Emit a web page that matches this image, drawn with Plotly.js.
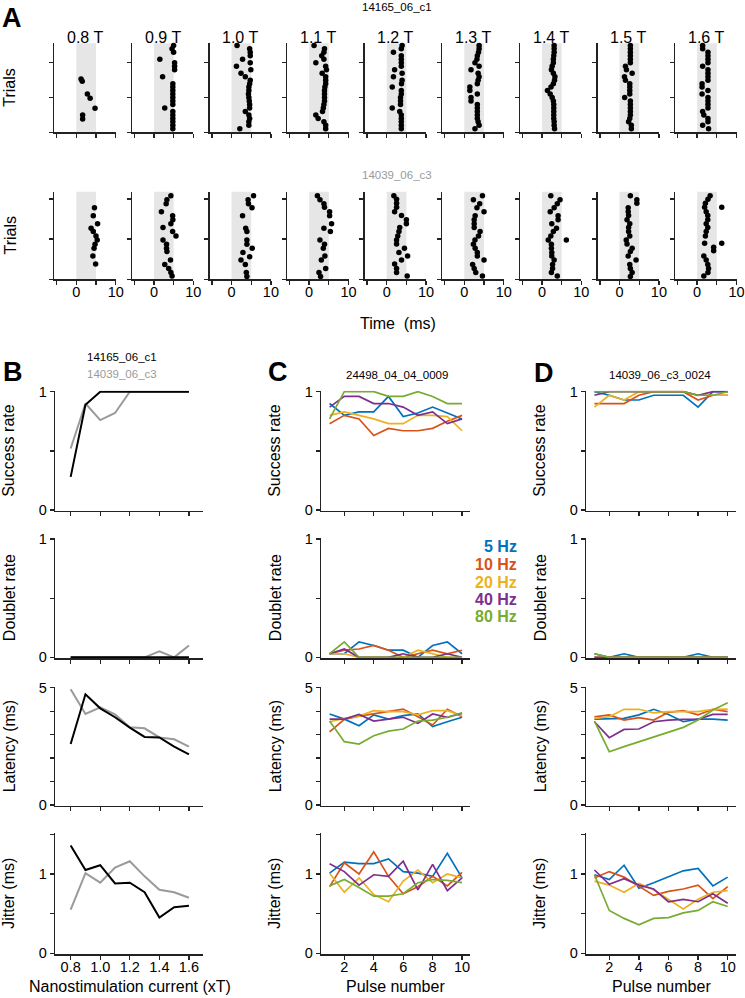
<!DOCTYPE html>
<html><head><meta charset="utf-8">
<script src="https://cdn.plot.ly/plotly-3.0.1.min.js"></script>
<style>html,body{margin:0;padding:0;background:#fff}#chart{width:745px;height:998px}</style>
</head><body><div id="chart"></div>
<script>
// ---------------- DATA ----------------
const intensities = ['0.8 T','0.9 T','1.0 T','1.1 T','1.2 T','1.3 T','1.4 T','1.5 T','1.6 T'];
const stimWindow = [0, 5];
const rasterXTicks = [-5, 0, 5, 10];
const rasterXTickText = ['', '0', '', '10'];
const rasterYTicks = [0, 10, 20];
const trials25 = [1,2,3,4,5,6,7,8,9,10,11,12,13,14,15,16,17,18,19,20,21,22,23,24,25];

// Cell 14165_06_c1 (top raster row): spike times (ms) and trial numbers
const topTimes = [
  [1.6,1.6,4.75,3.5,2.8,1.5,1.2],
  [4.8,4.8,4.8,4.8,4.8,4.8,2.75,4.8,4.8,4.8,4.8,4.8,4.8,4.8,2.2,5.25,5.25,5.25,1.5,5.0,4.6,5.0],
  [2.1,4.4,4.4,4.6,4.4,3.5,4.6,4.6,4.5,4.4,4.3,4.4,4.4,4.6,4.75,3.5,2.4,4.9,1.25,4.75,2.8,4.75,4.75,4.6,1.4],
  [4.2,4.2,3.75,2.3,1.7,3.4,3.6,3.75,3.9,3.9,3.9,3.9,4.0,4.2,4.2,4.2,3.3,4.4,4.2,1.7,3.75,3.2,3.75,3.9,1.25],
  [3.7,3.7,3.7,3.7,3.7,3.3,1.4,3.5,3.5,3.5,3.7,3.7,1.4,3.75,3.9,1.7,3.9,2.0,3.7,3.7,3.7,3.7,1.7,3.7,3.9],
  [2.7,3.75,3.5,3.3,3.3,3.3,3.3,3.3,1.7,1.7,3.3,1.4,1.4,3.3,3.5,3.75,3.5,1.7,3.75,2.7,3.2,3.3,3.6,3.75,3.75],
  [3.2,3.1,3.1,3.0,3.0,3.0,3.0,3.0,2.9,2.6,2.1,1.4,2.3,2.9,3.2,3.3,2.9,2.4,2.6,2.9,2.9,3.0,3.1,3.1,3.1],
  [3.0,3.0,2.3,2.6,2.75,2.75,2.75,2.75,2.75,1.3,2.6,2.6,2.6,2.6,1.5,1.25,3.2,1.75,1.5,2.75,2.75,2.75,2.75,2.75,2.75],
  [2.9,1.4,2.75,2.75,1.7,1.4,2.75,2.75,2.75,2.75,1.25,2.75,1.25,1.25,2.75,2.75,2.75,2.75,1.4,2.75,2.75,2.75,2.75,1.4,1.4]
];
const topTrials = [
  [3.8,5.0,6.9,9.8,11.0,14.7,15.3],
  [1,2,3,4,5,6,7,8,9,10,11,12,13,14,16,18,19,20,21,23,24,25],
  trials25, trials25, trials25, trials25, trials25, trials25, trials25
];

// Cell 14039_06_c3 (bottom raster row)
const botTimes = [
  [4.6,4.3,5.4,3.75,4.3,5.0,5.3,4.75,4.5,4.2,4.9],
  [4.3,3.3,3.1,1.9,4.75,4.8,4.3,2.3,4.75,5.6,2.3,3.2,3.2,3.3,4.2,2.75,3.75,4.3,4.6],
  [5.6,4.2,4.3,5.2,2.8,3.6,3.9,3.9,3.9,5.25,2.9,4.6,2.4,3.5,3.75,3.9],
  [2.1,2.75,3.75,3.9,5.2,5.2,5.7,3.75,5.4,2.75,3.9,3.6,4.0,3.1,4.2,2.5,2.9],
  [1.8,2.5,2.5,2.5,2.0,3.75,5.0,5.0,3.3,3.1,2.8,2.5,2.5,4.5,3.1,5.3,3.75,2.0,2.5,2.5,5.2],
  [4.6,2.3,3.9,3.2,5.0,2.75,2.5,2.5,2.5,4.0,3.6,2.7,2.3,2.75,3.3,3.3,5.0,2.1,2.5,2.9,4.6],
  [2.25,4.6,3.9,3.1,2.1,4.1,4.1,2.5,3.7,2.9,2.25,1.6,6.2,2.4,2.4,2.5,2.5,3.1,2.7,2.7,2.4,3.9],
  [2.75,4.4,4.4,2.2,2.2,2.3,1.9,2.6,2.3,2.3,2.6,1.7,1.9,3.2,2.75,2.2,4.2,2.6,2.75,3.2,2.75],
  [3.3,2.75,2.1,6.25,1.9,2.3,2.7,2.7,2.3,2.7,2.3,2.1,1.9,6.25,4.2,4.2,1.7,2.3,2.7,2.9,2.75,1.7]
];
const botTrials = [
  [17.8,15.8,13.8,12.7,11.9,10.8,9.8,8.7,7.7,5.8,3.8],
  [20.8,19.8,18.8,16.8,15.8,14.8,13.8,12.9,11.9,10.8,9.8,8.7,7.7,6.9,4.8,3.7,2.7,1.7,0.8],
  [20.8,19.8,18.8,17.8,15.8,12.7,11.9,9.8,8.7,7.7,6.7,5.6,4.8,3.7,1.7,0.7],
  [20.8,19.8,18.8,17.9,16.8,15.8,13.8,12.7,11.9,9.8,8.7,7.7,5.8,4.8,2.7,1.7,0.7],
  [20.8,19.9,18.9,17.9,16.8,15.9,14.8,13.8,12.9,11.9,10.8,9.8,8.8,7.7,6.7,5.8,4.8,3.8,2.7,1.7,0.8],
  [20.8,19.8,18.8,17.8,16.8,15.8,14.8,13.8,12.9,11.9,10.8,9.8,8.7,7.7,6.7,5.8,4.8,3.7,2.7,1.7,0.8],
  [20.8,19.8,18.8,17.8,16.8,15.8,14.8,13.8,12.7,11.9,10.8,9.8,9.8,8.7,7.7,6.7,5.8,4.8,3.7,2.7,1.7,0.8],
  [20.8,19.8,18.9,17.8,16.8,15.9,14.8,13.8,12.9,11.9,10.8,9.8,8.8,7.7,6.9,5.8,4.8,3.7,2.7,1.7,0.7],
  [20.8,19.9,18.9,17.9,17.9,16.8,15.9,14.8,13.8,12.9,11.9,10.8,9.0,9.0,8.0,7.1,5.8,4.8,3.7,2.7,1.7,0.8]
];

// Panel B: vs nanostimulation current
const currents = [0.8,0.9,1.0,1.1,1.2,1.3,1.4,1.5,1.6];
const currentTicks = [0.8,1.0,1.2,1.4,1.6];
const currentTickText = ['0.8','1.0','1.2','1.4','1.6'];
const successB_c1 = [0.28,0.89,1,1,1,1,1,1,1];
const successB_c3 = [0.52,0.90,0.76,0.82,1,1,1,1,1];
const doubletB_c1 = [0,0,0,0,0,0,0,0,0];
const doubletB_c3 = [0,0,0,0,0,0,0.05,0,0.1];
const latencyB_c1 = [2.6,4.72,4.12,3.74,3.3,2.9,2.88,2.49,2.16];
const latencyB_c3 = [4.93,3.88,4.16,3.86,3.31,3.27,2.88,2.8,2.49];
const jitterB_c1 = [1.36,1.05,1.11,0.88,0.89,0.77,0.45,0.58,0.60];
const jitterB_c3 = [0.55,1.01,0.89,1.08,1.16,0.97,0.80,0.77,0.70];

// Panels C, D: vs pulse number
const pulses = [1,2,3,4,5,6,7,8,9,10];
const pulseTicks = [2,4,6,8,10];
const freqLabels = ['5 Hz','10 Hz','20 Hz','40 Hz','80 Hz'];
const successC = [
  [0.90,0.80,0.83,0.83,0.96,0.79,0.82,0.87,0.82,0.77],
  [0.73,0.80,0.77,0.63,0.69,0.67,0.67,0.69,0.75,0.80],
  [0.80,0.83,0.80,0.77,0.73,0.73,0.80,0.80,0.79,0.67],
  [0.87,0.96,0.96,0.90,0.90,0.87,0.80,0.83,0.73,0.77],
  [0.77,1,1,1,0.96,0.96,1,0.96,0.90,0.90]
];
const doubletC = [
  [0.03,0.03,0.13,0.10,0.06,0.06,0,0.10,0.13,0.03],
  [0.03,0.06,0.07,0.10,0.06,0,0.03,0.06,0.03,0.06],
  [0.03,0.03,0,0,0,0,0.06,0.03,0,0],
  [0.03,0.07,0,0,0,0.03,0,0,0.03,0],
  [0.03,0.13,0,0,0,0,0,0,0,0]
];
const latencyC = [
  [3.88,3.66,3.38,3.84,3.66,3.81,3.88,3.34,3.55,3.74],
  [3.12,3.65,3.79,3.88,3.98,4.09,3.76,3.41,4.08,3.76],
  [3.55,3.69,3.79,4.02,3.98,3.98,3.84,4.02,4.02,3.81],
  [3.66,3.66,3.86,3.58,3.66,3.74,3.48,3.88,3.74,3.91],
  [3.58,2.70,2.60,2.95,3.15,3.24,3.58,3.62,3.74,3.93]
];
const jitterC = [
  [1.01,1.15,1.13,1.13,1.19,1.03,1.01,0.97,1.26,0.95],
  [0.84,1.14,1.0,1.28,0.97,0.75,0.84,0.97,0.85,1.02],
  [1.01,0.77,0.95,0.74,0.65,0.91,1.05,0.89,1.0,0.95],
  [1.13,1.03,0.86,0.99,0.97,1.16,0.80,1.12,0.79,0.95],
  [0.85,0.93,0.83,0.72,0.72,0.75,0.89,0.93,0.92,0.89]
];
const successD = [
  [1,0.97,0.93,0.93,0.97,0.97,0.97,0.87,1,1],
  [0.90,0.90,0.90,0.97,1,1,1,0.93,0.97,0.97],
  [0.87,0.97,0.93,1,1,1,1,0.97,0.97,0.97],
  [0.97,1,1,1,1,1,1,0.97,1,1],
  [1,1,1,1,1,1,1,0.97,0.97,1]
];
const doubletD = [
  [0.03,0,0.03,0,0,0,0,0.03,0,0],
  [0,0,0,0,0,0,0,0,0,0],
  [0,0,0,0,0,0,0,0,0,0],
  [0,0,0,0,0,0,0,0,0,0],
  [0.03,0,0,0,0,0,0,0,0,0]
];
const latencyD = [
  [3.66,3.66,3.69,3.84,4.08,3.86,3.55,3.66,3.66,3.62],
  [3.76,3.84,3.62,3.72,3.62,3.95,4.02,3.84,4.08,3.98],
  [3.69,3.76,4.08,4.08,3.93,3.98,3.98,3.98,4.08,4.09],
  [3.55,2.87,3.22,3.24,3.55,3.62,3.65,3.65,3.86,3.86],
  [3.58,2.27,2.49,2.70,2.91,3.12,3.31,3.62,4.05,4.36]
];
const jitterD = [
  [0.99,0.93,1.11,0.82,0.89,0.97,1.04,1.07,0.85,0.96],
  [0.95,1.03,0.96,0.84,0.73,0.78,0.81,0.86,0.69,0.84],
  [0.91,0.86,0.77,0.88,0.80,0.68,0.56,0.68,0.77,0.79],
  [1.05,0.87,0.94,0.86,0.81,0.65,0.68,0.65,0.75,0.63],
  [0.99,0.54,0.44,0.36,0.44,0.45,0.51,0.54,0.65,0.59]
];

// ---------------- DRAWING ----------------
const W = 745, H = 998;
const FONT = 'Arial, "Liberation Sans", sans-serif';
const AXC = '#222';
const freqColors = ['#0072BD','#D95319','#EDB120','#7E2F8E','#77AC30'];
const c1Color = '#000000', c3Color = '#9a9a9a';

const data = [];
const layout = {
  width: W, height: H, margin: {l:0, r:0, t:0, b:0}, showlegend: false,
  paper_bgcolor: '#fff', plot_bgcolor: 'rgba(0,0,0,0)',
  font: {family: FONT, size: 16, color: '#000'},
  shapes: [], annotations: []
};
const axisCommon = {
  showline: true, linecolor: AXC, linewidth: 1.3, ticks: 'outside', ticklen: 4,
  tickwidth: 1.3, tickcolor: AXC, showgrid: false, zeroline: false, fixedrange: true,
  tickfont: {family: FONT, size: 14.5, color: '#000'}
};
let axN = 0;
function addAxes(xpx, ypx, xopt, yopt) {
  axN++;
  const id = axN === 1 ? '' : String(axN);
  layout['xaxis' + id] = Object.assign({}, axisCommon,
    {domain: [xpx[0] / W, xpx[1] / W], anchor: 'y' + id, ticklabelstandoff: -5}, xopt);
  layout['yaxis' + id] = Object.assign({}, axisCommon,
    {domain: [1 - ypx[1] / H, 1 - ypx[0] / H], anchor: 'x' + id}, yopt);
  return id;
}
function ann(text, xpx, ypx, o) {
  o = o || {};
  layout.annotations.push({
    text: text, xref: 'paper', yref: 'paper', x: xpx / W, y: 1 - ypx / H,
    xanchor: o.xanchor || 'center', yanchor: 'middle', showarrow: false,
    textangle: o.angle || 0,
    font: {family: FONT, size: o.size || 16, color: o.color || '#000'}
  });
}

// Panel A rasters
const rasterRows = [
  {times: topTimes, trials: topTrials, yTop: 43.3, yBot: 132.3, yMax: 25.6, labels: false},
  {times: botTimes, trials: botTrials, yTop: 191.7, yBot: 279.3, yMax: 21.8, labels: true}
];
rasterRows.forEach(function (row) {
  for (let k = 0; k < intensities.length; k++) {
    const xL = 54.3 + k * 77.6;
    const id = addAxes([xL, xL + 61.4], [row.yTop, row.yBot],
      {range: [-5.6, 10], tickvals: rasterXTicks,
       ticktext: row.labels ? rasterXTickText : rasterXTicks.map(function(){return '';})},
      {range: [0, row.yMax], tickvals: rasterYTicks, showticklabels: false});
    data.push({type: 'scatter', mode: 'markers', x: row.times[k], y: row.trials[k],
      xaxis: 'x' + id, yaxis: 'y' + id, marker: {size: 5.5, color: '#000'},
      cliponaxis: false, hoverinfo: 'skip'});
    layout.shapes.push({type: 'rect', xref: 'x' + id, yref: 'y' + id + ' domain',
      x0: stimWindow[0], x1: stimWindow[1], y0: 0, y1: 1,
      fillcolor: '#e6e6e6', line: {width: 0}, layer: 'below'});
  }
});
for (let k = 0; k < intensities.length; k++) {
  ann(intensities[k], 54.3 + k * 77.6 + 30.7, 37.5, {size: 16});
}
ann('Trials', 10, 87.8, {angle: -90});
ann('Trials', 10, 235.5, {angle: -90});
ann('14165_06_c1', 397.5, 7.5, {size: 11.5});
ann('14039_06_c3', 397, 175, {size: 11.5, color: c3Color});
ann('Time  (ms)', 398, 323, {size: 16});
ann('<b>A</b>', 12, 18, {size: 27});

// Panels B, C, D
const rowsSpec = [
  {label: 'Success rate', v0: 510, v1: 391.7, vmin: 0, vmax: 1, tickvals: [0,0.5,1], ticktext: ['0','','1']},
  {label: 'Doublet rate', v0: 657.3, v1: 539, vmin: 0, vmax: 1, tickvals: [0,0.5,1], ticktext: ['0','','1']},
  {label: 'Latency (ms)', v0: 805, v1: 687.7, vmin: 0, vmax: 5, tickvals: [0,1,2,3,4,5], ticktext: ['0','','','','','5']},
  {label: 'Jitter (ms)', v0: 953.3, v1: 834.3, vmin: 0, vmax: 1.5, tickvals: [0,0.5,1,1.5], ticktext: ['0','','1','']}
];
const colsSpec = [
  {xL: 55, xR: 203, range: [0.694, 1.695], tickvals: currentTicks, ticktext: currentTickText, x: currents,
   series: [[successB_c3, successB_c1],[doubletB_c3, doubletB_c1],[latencyB_c3, latencyB_c1],[jitterB_c3, jitterB_c1]],
   colors: [c3Color, c1Color], width: 2, xlabel: 'Nanostimulation current (xT)', xlabelX: 130},
  {xL: 321, xR: 470, range: [0.416, 10.54], tickvals: pulseTicks, ticktext: pulseTicks.map(String), x: pulses,
   series: [successC, doubletC, latencyC, jitterC], colors: freqColors, width: 1.7,
   xlabel: 'Pulse number', xlabelX: 395},
  {xL: 586, xR: 735.7, range: [0.43, 10.54], tickvals: pulseTicks, ticktext: pulseTicks.map(String), x: pulses,
   series: [successD, doubletD, latencyD, jitterD], colors: freqColors, width: 1.7,
   xlabel: 'Pulse number', xlabelX: 661}
];
const PAD = 0.008;
colsSpec.forEach(function (col) {
  rowsSpec.forEach(function (row, r) {
    const span = row.vmax - row.vmin;
    const ppu = (row.v0 - row.v1) / span;
    const pad = PAD * span;
    const bottom = r === rowsSpec.length - 1;
    const id = addAxes([col.xL, col.xR], [row.v1 - pad * ppu, row.v0 + pad * ppu],
      {range: col.range, tickvals: col.tickvals, ticktext: col.ticktext, showticklabels: bottom},
      {range: [row.vmin - pad, row.vmax + pad], tickvals: row.tickvals, ticktext: row.ticktext});
    col.series[r].forEach(function (ys, s) {
      data.push({type: 'scatter', mode: 'lines', x: col.x, y: ys, xaxis: 'x' + id, yaxis: 'y' + id,
        line: {color: col.colors[s], width: col.width}, hoverinfo: 'skip'});
    });
    ann(row.label, col.xL - 46, (row.v0 + row.v1) / 2, {angle: -90});
  });
  ann(col.xlabel, col.xlabelX, 986, {size: 16});
});
ann('<b>B</b>', 13, 372, {size: 27});
ann('<b>C</b>', 278, 372, {size: 27});
ann('<b>D</b>', 544, 373, {size: 27});
ann('14165_06_c1', 122, 357, {size: 11.5});
ann('14039_06_c3', 122, 374, {size: 11.5, color: c3Color});
ann('24498_04_04_0009', 396.7, 375, {size: 11.5});
ann('14039_06_c3_0024', 660, 375, {size: 11.5});
const legendY = [546, 564, 582, 599, 616];
freqLabels.forEach(function (lab, i) {
  ann('<b>' + lab + '</b>', 519, legendY[i], {size: 16, color: freqColors[i], xanchor: 'right'});
});

Plotly.newPlot('chart', data, layout, {staticPlot: true, displayModeBar: false});
</script>
</body></html>
